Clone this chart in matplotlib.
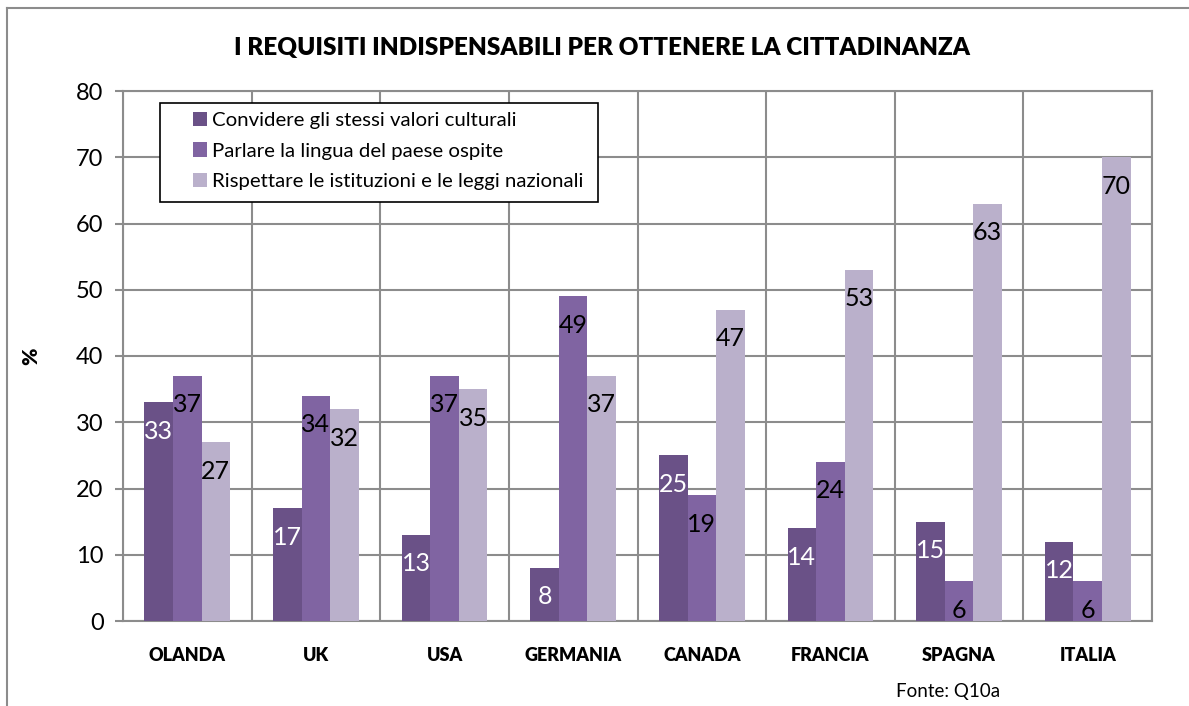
import numpy as np
import matplotlib
matplotlib.use("Agg")
from matplotlib import pyplot as plt
from matplotlib.lines import Line2D
from matplotlib.patches import Rectangle

plt.rcParams['font.family'] = ['Lato', 'DejaVu Sans']

paesi = ["OLANDA", "UK", "USA", "GERMANIA", "CANADA", "FRANCIA", "SPAGNA", "ITALIA"]
serie = ["Convidere gli stessi valori culturali",
         "Parlare la lingua del paese ospite",
         "Rispettare le istituzioni e le leggi nazionali"]
valori_culturali = [33, 17, 13, 8, 25, 14, 15, 12]
lingua = [37, 34, 37, 49, 19, 24, 6, 6]
istituzioni = [27, 32, 35, 37, 47, 53, 63, 70]
colori = ["#6a5187", "#8064a2", "#bab0cb"]
colori_testo = ["white", "black", "black"]

W, H = 1189, 706
fig = plt.figure(figsize=(W / 100, H / 100), dpi=100)
ax = fig.add_axes([123 / W, 1 - 621 / H, (1152 - 123) / W, (621 - 91) / H])

x = np.arange(len(paesi))
bw = 0.222
dati = [valori_culturali, lingua, istituzioni]
for i, (vals, c, tc) in enumerate(zip(dati, colori, colori_testo)):
    bars = ax.bar(x + (i - 1) * bw, vals, bw, color=c, label=serie[i], zorder=3)
    for b, v in zip(bars, vals):
        ax.annotate(str(v), (b.get_x() + b.get_width() / 2, v), xytext=(0, -29),
                    textcoords="offset pixels", ha="center", va="center",
                    fontsize=18, color=tc, zorder=4)

ax.set_xlim(-0.5, len(paesi) - 0.5)
ax.set_ylim(0, 80)
ax.set_yticks(range(0, 81, 10))
ax.set_xticks(x)
ax.set_xticklabels(paesi, fontsize=13, fontweight="heavy")
ax.set_xticks(np.arange(-0.5, len(paesi), 1), minor=True)
ax.tick_params(axis="x", which="both", length=0, pad=19)
ax.tick_params(axis="y", labelsize=17, length=6, width=1.5, color="#8c8c8c", pad=8)
ax.grid(axis="y", color="#8c8c8c", linewidth=1.5, zorder=0)
ax.grid(axis="x", which="minor", color="#8c8c8c", linewidth=1.5, zorder=0)
for s in ax.spines.values():
    s.set_color("#8c8c8c")
    s.set_linewidth(1.5)
ax.set_ylabel("%", fontsize=15, fontweight="heavy")
ax.yaxis.set_label_coords((40 - 123) / (1152 - 123), 0.5)

# riquadro della legenda
box = Rectangle((160 / W, 1 - 202 / H), (598 - 160) / W, (202 - 103) / H,
                transform=fig.transFigure, facecolor="white",
                edgecolor="black", linewidth=1.2, zorder=5, clip_on=False)
ax.add_patch(box)
leg = ax.legend(loc="upper left", bbox_to_anchor=(193 / W, 1 - 112 / H),
                bbox_transform=fig.transFigure,
                fontsize=14.7, frameon=False,
                handlelength=0.7, handleheight=0.7, handletextpad=0.25,
                borderpad=0, labelspacing=0.64, borderaxespad=0)
leg.set_zorder(6)

fig.text(602 / W, 1 - 48 / H, "I REQUISITI INDISPENSABILI PER OTTENERE LA CITTADINANZA",
         ha="center", va="center", fontsize=17.5, fontweight="heavy")
fig.text(948 / W, 1 - 692 / H, "Fonte: Q10a", ha="center", va="center", fontsize=13.5)

# bordo del grafico
fig.add_artist(Line2D([7 / W, 7 / W], [0, 1 - 8 / H], color="#8c8c8c", lw=1.5))
fig.add_artist(Line2D([7 / W, 1], [1 - 8 / H, 1 - 8 / H], color="#8c8c8c", lw=1.5))

fig.savefig("out.png", dpi=100)
